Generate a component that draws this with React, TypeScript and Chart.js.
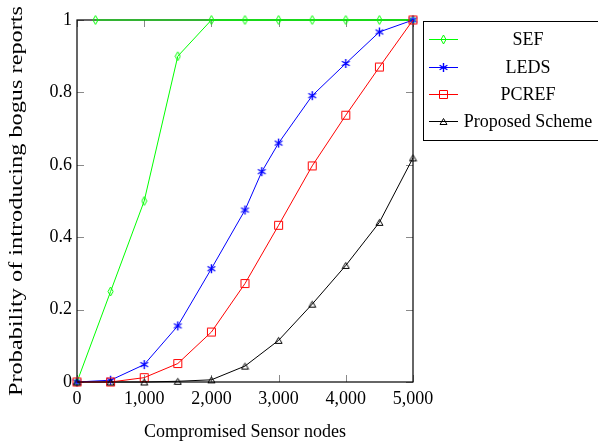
import React, { useEffect, useRef } from "react";
import { Chart, registerables } from "chart.js";

Chart.register(...registerables);

// ---- data ----
const xTicks = [0, 1000, 2000, 3000, 4000, 5000];
const yTicks = [0, 0.2, 0.4, 0.6, 0.8, 1];

const seriesNames = ["SEF", "LEDS", "PCREF", "Proposed Scheme"];

const sefX = [0, 500, 1000, 1500, 2000, 2500, 3000, 3500, 4000, 4500, 5000, 275];
const sefY = [0, 0.25, 0.5, 0.9, 1, 1, 1, 1, 1, 1, 1, 1];

const ledsX = [0, 500, 1000, 1500, 2000, 2500, 2750, 3000, 3500, 4000, 4500, 5000];
const ledsY = [0, 0.005, 0.048, 0.155, 0.313, 0.475, 0.581, 0.66, 0.791, 0.88, 0.967, 1];

const pcrefX = [0, 500, 1000, 1500, 2000, 2500, 3000, 3500, 4000, 4500, 5000];
const pcrefY = [0, 0, 0.012, 0.051, 0.138, 0.272, 0.433, 0.597, 0.737, 0.87, 1];

const proposedX = [0, 500, 1000, 1500, 2000, 2500, 3000, 3500, 4000, 4500, 5000];
const proposedY = [0, 0, 0, 0.002, 0.006, 0.044, 0.115, 0.215, 0.322, 0.441, 0.619];

const colors = ["#00ff00", "#0000ff", "#ff0000", "#000000"];
const markerKinds = ["diamond", "asterisk", "square", "triangle"];

const xTitle = "Compromised Sensor nodes";
const yTitle = "Probability of introducing bogus reports";

const FONT = "'Liberation Serif', 'Times New Roman', serif";

function makeMarker(kind: string, color: string): HTMLCanvasElement {
  const c = document.createElement("canvas");
  let w = 9, h = 9;
  if (kind === "diamond") { w = 7; h = 11; }
  if (kind === "square") { w = 11; h = 11; }
  if (kind === "asterisk") { w = 11; h = 11; }
  if (kind === "triangle") { w = 9; h = 9; }
  c.width = w; c.height = h;
  const g = c.getContext("2d")!;
  g.strokeStyle = color;
  g.lineWidth = 1;
  g.beginPath();
  if (kind === "diamond") {
    g.moveTo(3.5, 1); g.lineTo(6, 5.5); g.lineTo(3.5, 10); g.lineTo(1, 5.5); g.closePath();
  } else if (kind === "square") {
    g.rect(1.5, 1.5, 8, 8);
  } else if (kind === "triangle") {
    g.moveTo(4.5, 1.5); g.lineTo(8, 7.5); g.lineTo(1, 7.5); g.closePath();
  } else if (kind === "asterisk") {
    g.lineWidth = 1.4;
    const cx = 5.5, cy = 5.5, r = 4.5;
    for (const a of [90, 30, 150]) {
      const rad = (a * Math.PI) / 180;
      g.moveTo(cx + r * Math.cos(rad), cy - r * Math.sin(rad));
      g.lineTo(cx - r * Math.cos(rad), cy + r * Math.sin(rad));
    }
  }
  g.stroke();
  return c;
}

export default function App() {
  const ref = useRef<HTMLCanvasElement | null>(null);

  useEffect(() => {
    if (!ref.current) return;
    const markers = markerKinds.map((k, i) => makeMarker(k, colors[i]));
    const xs = [sefX, ledsX, pcrefX, proposedX];
    const ys = [sefY, ledsY, pcrefY, proposedY];

    const datasets = seriesNames.map((name, i) => ({
      label: name,
      data: xs[i].map((x, j) => ({ x, y: ys[i][j] })),
      borderColor: colors[i],
      backgroundColor: "transparent",
      borderWidth: 1,
      pointStyle: markers[i] as any,
      pointRadius: 5,
      pointHoverRadius: 5,
      tension: 0,
      fill: false,
      clip: false as any,
      order: 4 - i,
    }));

    const framePlugin = {
      id: "frame",
      beforeDatasetsDraw(chart: any) {
        const { ctx, chartArea: a, scales } = chart;
        ctx.save();
        // inward ticks on all sides
        ctx.strokeStyle = "#8a8a8a";
        ctx.lineWidth = 1;
        const tl = 7;
        ctx.beginPath();
        for (const v of xTicks) {
          const px = Math.round(scales.x.getPixelForValue(v)) + 0.5;
          ctx.moveTo(px, a.bottom); ctx.lineTo(px, a.bottom - tl);
          ctx.moveTo(px, a.top); ctx.lineTo(px, a.top + tl);
        }
        for (const v of yTicks) {
          const py = Math.round(scales.y.getPixelForValue(v)) + 0.5;
          ctx.moveTo(a.left, py); ctx.lineTo(a.left + tl, py);
          ctx.moveTo(a.right, py); ctx.lineTo(a.right - tl, py);
        }
        ctx.stroke();
        // frame
        ctx.strokeStyle = "#000";
        ctx.lineWidth = 1.2;
        ctx.strokeRect(a.left, a.top, a.right - a.left, a.bottom - a.top);
        ctx.restore();
      },
      afterDraw(chart: any) {
        const { ctx, chartArea: a } = chart;
        ctx.save();
        // x title
        ctx.fillStyle = "#000";
        ctx.font = `18px ${FONT}`;
        ctx.textAlign = "center";
        ctx.textBaseline = "alphabetic";
        ctx.fillText(xTitle, (a.left + a.right) / 2, 437);
        // y title (stretched along its length)
        ctx.save();
        ctx.translate(22, 201);
        ctx.rotate(-Math.PI / 2);
        const tw = ctx.measureText(yTitle).width;
        ctx.scale(390 / tw, 1);
        ctx.fillText(yTitle, 0, 0);
        ctx.restore();
        // legend
        const lx = a.right + 10;
        const ly = 21;
        ctx.strokeStyle = "#000";
        ctx.lineWidth = 1;
        ctx.strokeRect(lx + 0.5, ly + 0.5, 300, 119);
        const rows = [39, 67, 94, 121];
        ctx.font = `18px ${FONT}`;
        ctx.textBaseline = "middle";
        ctx.textAlign = "center";
        seriesNames.forEach((name, i) => {
          const y = rows[i];
          ctx.strokeStyle = colors[i];
          ctx.lineWidth = 1;
          ctx.beginPath();
          ctx.moveTo(lx + 6, y + 0.5);
          ctx.lineTo(lx + 35, y + 0.5);
          ctx.stroke();
          const m = markers[i];
          ctx.drawImage(m, lx + 20.5 - m.width / 2, y + 0.5 - m.height / 2);
          ctx.fillStyle = "#000";
          ctx.fillText(name, lx + 105, y + 1);
        });
        ctx.restore();
      },
    };

    const chart = new Chart(ref.current, {
      type: "line",
      data: { datasets: datasets as any },
      options: {
        animation: false,
        responsive: false,
        devicePixelRatio: 1,
        events: [],
        layout: { padding: { top: 20, right: 185, left: 0, bottom: 0 } },
        plugins: {
          legend: { display: false },
          tooltip: { enabled: false },
          title: { display: false },
        },
        scales: {
          x: {
            type: "linear",
            min: 0,
            max: 5000,
            afterFit: (s: any) => { s.height = 65; },
            afterBuildTicks: (s: any) => { s.ticks = xTicks.map((v) => ({ value: v })); },
            grid: { display: false, drawTicks: false },
            border: { display: false },
            ticks: {
              padding: 6,
              color: "#000",
              font: { family: FONT, size: 18 },
              maxRotation: 0,
              callback: (v: any) => Number(v).toLocaleString("en-US"),
            },
          },
          y: {
            type: "linear",
            min: 0,
            max: 1,
            afterFit: (s: any) => { s.width = 77; },
            afterBuildTicks: (s: any) => { s.ticks = yTicks.map((v) => ({ value: v })); },
            grid: { display: false, drawTicks: false },
            border: { display: false },
            ticks: {
              padding: 5,
              color: "#000",
              font: { family: FONT, size: 18 },
              callback: (v: any) => String(Math.round(Number(v) * 10) / 10),
            },
          },
        },
      },
      plugins: [framePlugin],
    });
    return () => chart.destroy();
  }, []);

  return (
    <div style={{ position: "fixed", left: 0, top: 0, width: 598, height: 447, background: "#fff" }}>
      <canvas ref={ref} width={598} height={447} style={{ display: "block" }} />
    </div>
  );
}
